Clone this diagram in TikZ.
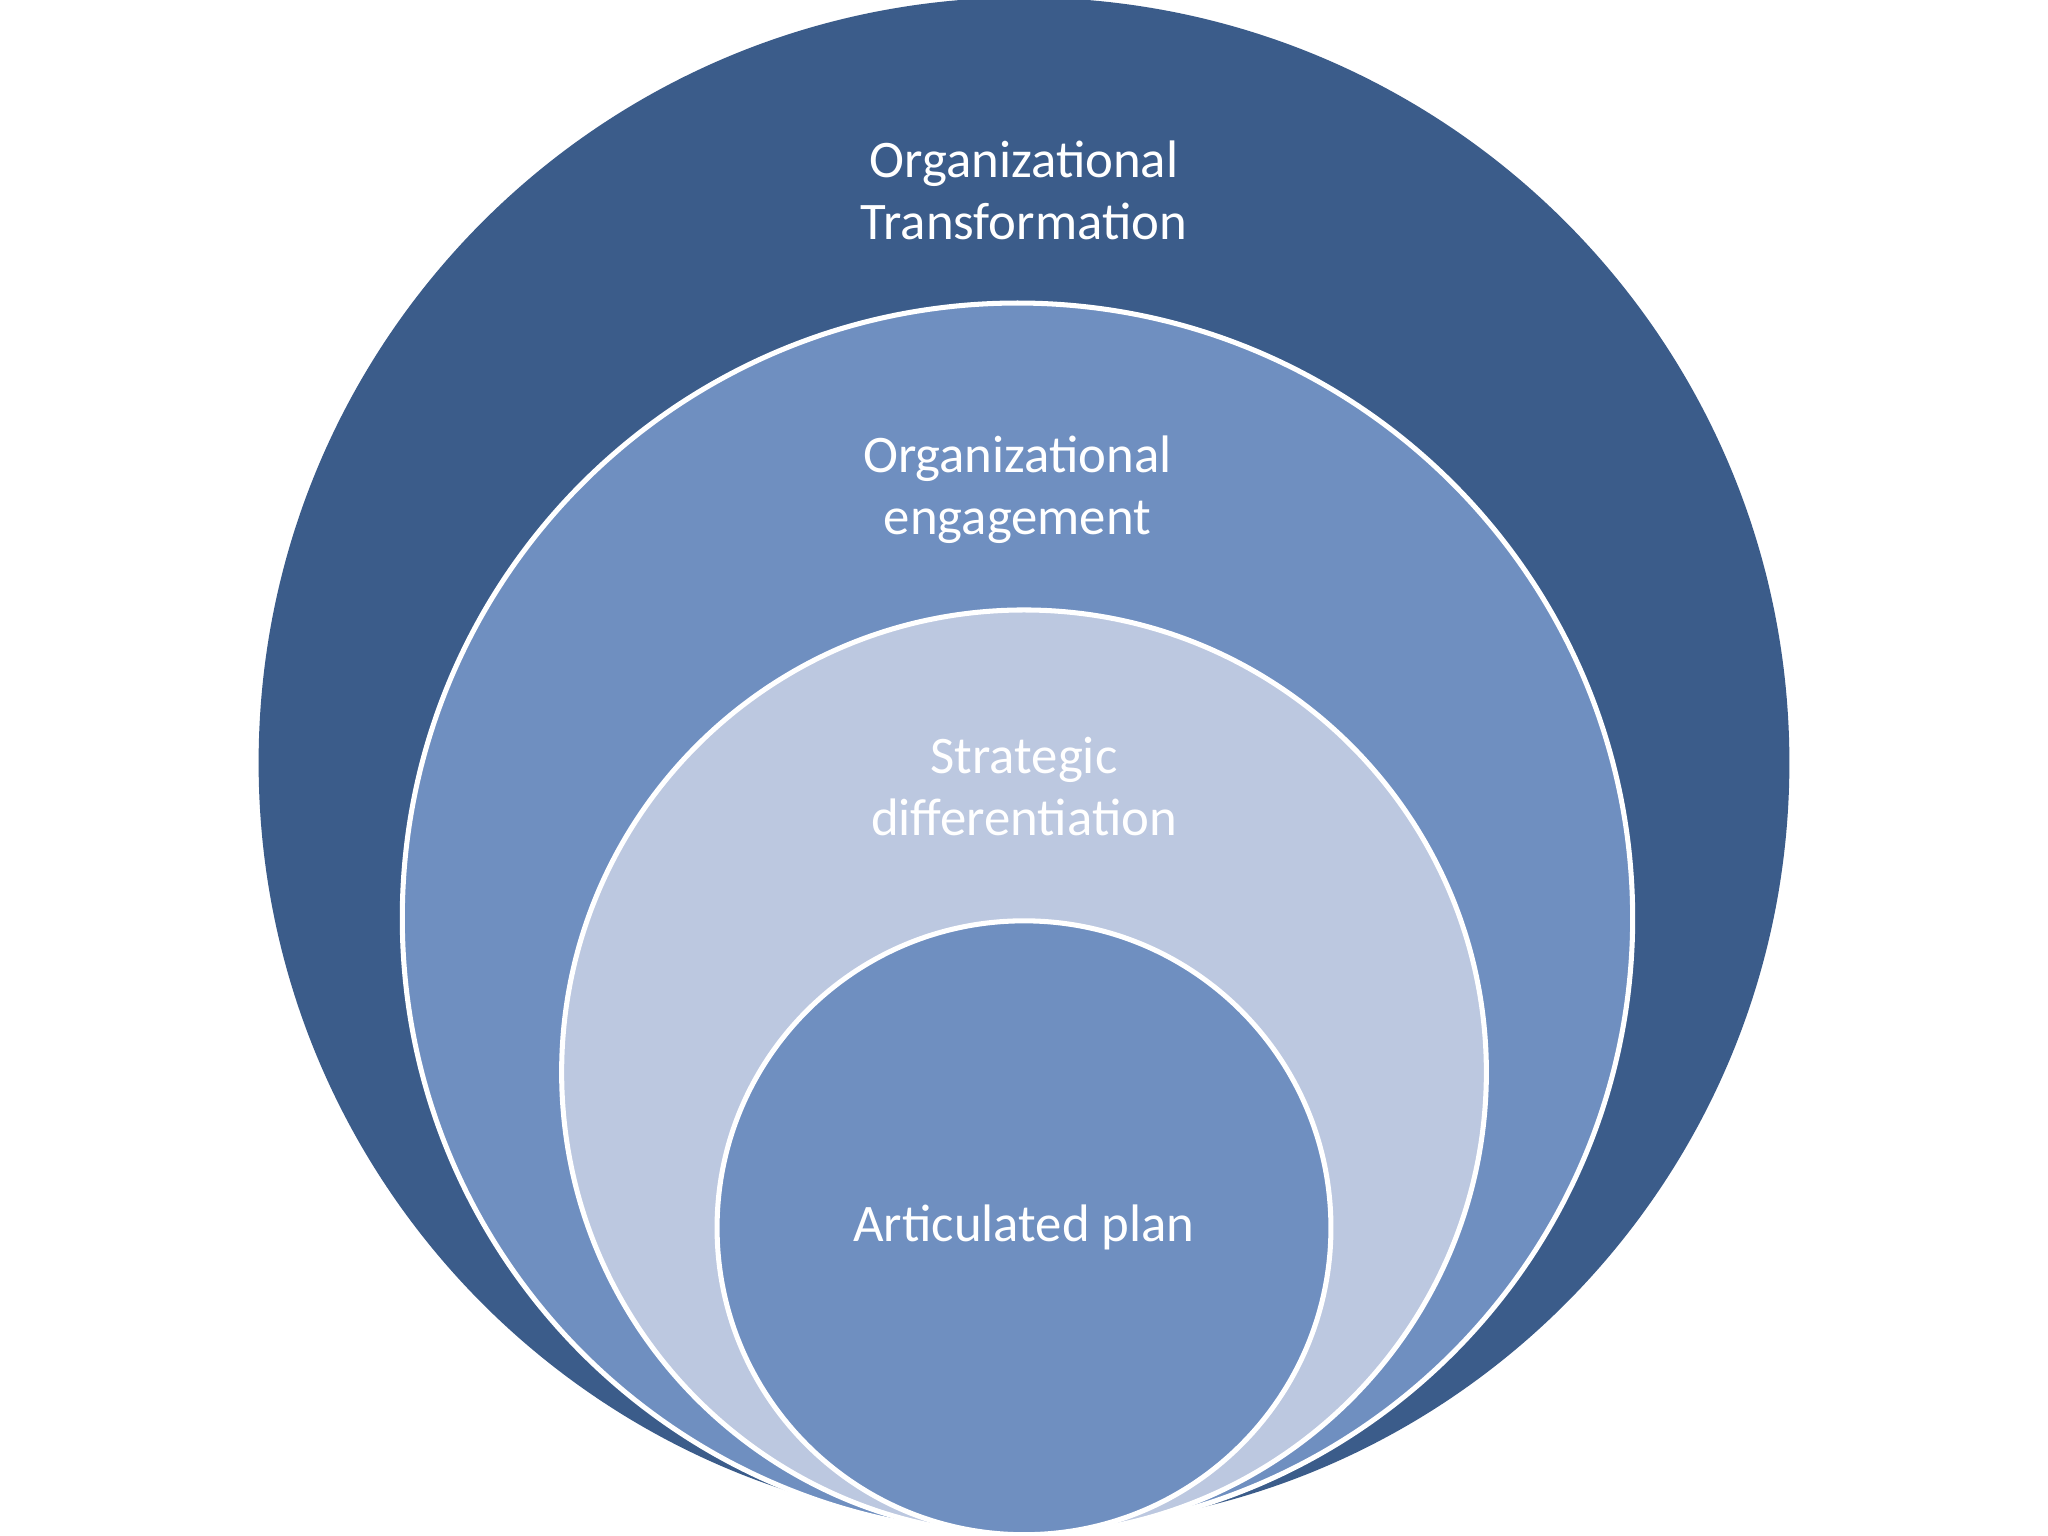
\documentclass[tikz,border=0pt]{standalone}
\usepackage{fontspec}
\setmainfont{Carlito}
\definecolor{c1}{HTML}{3B5C8A}
\definecolor{c2}{HTML}{6F8FC0}
\definecolor{c3}{HTML}{BCC8E0}
\begin{document}
\begin{tikzpicture}[x=0.02cm,y=-0.02cm,
  ring/.style={circle,draw=white,line width=2.2pt,inner sep=0pt},
  lbl/.style={text=white,align=center,font=\fontsize{23}{27}\selectfont}]
\useasboundingbox[fill=white] (0,0) rectangle (1568,1176);
\node[ring,fill=c1,draw=none,minimum size=2*586*0.02cm] (o) at (784,584) {};
\node[ring,fill=c2,minimum size=2*471*0.02cm] (e) at (779,703) {};
\node[ring,fill=c3,minimum size=2*354*0.02cm] (s) at (784,821) {};
\node[ring,fill=c2,minimum size=2*235*0.02cm] (a) at (784,940) {};
\node[lbl] (t1) at (784,146) {Organizational\\Transformation};
\node[lbl] (t2) at (779,375) {Organizational\\engagement};
\node[lbl] (t3) at (784,602) {Strategic\\differentiation};
\node[lbl] (t4) at (784,940) {Articulated plan};
\end{tikzpicture}
\end{document}
